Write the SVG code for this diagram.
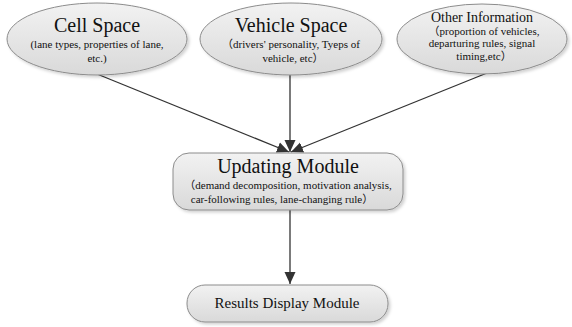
<svg xmlns="http://www.w3.org/2000/svg" width="572" height="327" viewBox="0 0 572 327">
<style>
.n{fill:url(#g);stroke:#8c8c8c;stroke-width:1}
.t{font-family:"Liberation Serif","Times New Roman","Noto Sans CJK SC",serif;fill:#111;text-anchor:middle}
.c{stroke:#333;stroke-width:1.3;fill:none;marker-end:url(#a)}
</style>
<defs>
<linearGradient id="g" x1="0" y1="0" x2="0" y2="1">
<stop offset="0" stop-color="#f2f2f2"/>
<stop offset="1" stop-color="#d9d9d9"/>
</linearGradient>
<filter id="s" x="-10%" y="-10%" width="130%" height="140%">
<feDropShadow dx="2" dy="2" stdDeviation="1.5" flood-color="#000" flood-opacity="0.18"/>
</filter>
<marker id="a" markerWidth="14" markerHeight="14" refX="12" refY="6.5" orient="auto" markerUnits="userSpaceOnUse">
<path d="M0,1 L12,6.5 L0,12 Z" fill="#333"/>
</marker>
</defs>
<g id="connectors">
<line class="c" x1="97" y1="74" x2="289" y2="152"/>
<line class="c" x1="290" y1="75" x2="290" y2="152"/>
<line class="c" x1="487" y1="73" x2="291" y2="152"/>
<line class="c" x1="290" y1="210" x2="290" y2="284"/>
</g>
<g id="cell-space">
<ellipse class="n" filter="url(#s)" cx="97" cy="39" rx="90" ry="36"/>
<text class="t" x="97" y="32" font-size="20">Cell Space</text>
<text class="t" x="97" y="48" font-size="11">(lane types, properties of lane,</text>
<text class="t" x="97" y="62" font-size="11">etc.)</text>
</g>
<g id="vehicle-space">
<ellipse class="n" filter="url(#s)" cx="291" cy="39" rx="91" ry="36"/>
<text class="t" x="291" y="32" font-size="20">Vehicle Space</text>
<text class="t" x="291" y="48" font-size="11">（drivers' personality, Tyeps of</text>
<text class="t" x="293" y="62" font-size="11">vehicle, etc）</text>
</g>
<g id="other-information">
<ellipse class="n" filter="url(#s)" cx="482" cy="39" rx="85" ry="35"/>
<text class="t" x="482" y="22" font-size="14">Other Information</text>
<text class="t" x="484" y="35" font-size="11">（proportion of vehicles,</text>
<text class="t" x="482" y="47" font-size="11">departuring rules, signal</text>
<text class="t" x="484" y="60" font-size="11">timing,etc）</text>
</g>
<g id="updating-module">
<rect class="n" filter="url(#s)" x="173" y="153" width="230" height="57" rx="16"/>
<text class="t" x="288" y="173" font-size="20">Updating Module</text>
<text class="t" x="288" y="189" font-size="11">（demand decomposition, motivation analysis,</text>
<text class="t" x="282" y="203" font-size="11">car-following rules, lane-changing rule）</text>
</g>
<g id="results-display-module">
<rect class="n" filter="url(#s)" x="187" y="285" width="201" height="37" rx="18"/>
<text class="t" x="287" y="308" font-size="15">Results Display Module</text>
</g>
</svg>
